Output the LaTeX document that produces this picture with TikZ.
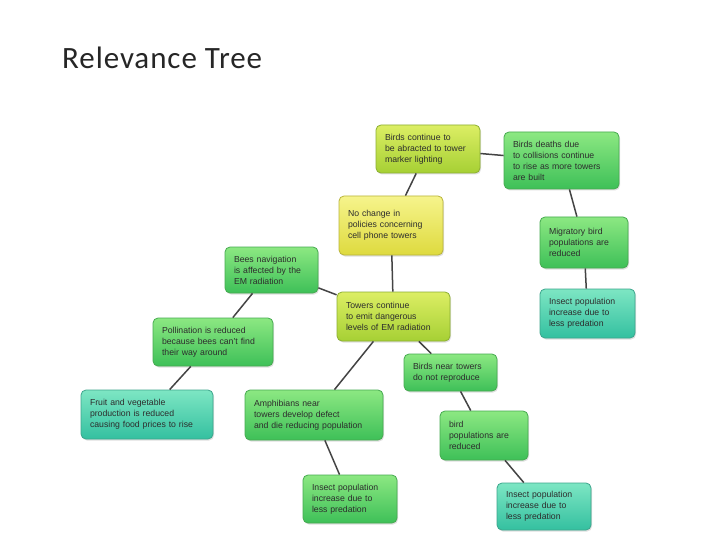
\documentclass[tikz,border=0pt]{standalone}
\usepackage{fontspec}
\setmainfont{Liberation Sans}
\newfontfamily\titlefont[LetterSpace=3]{Carlito}
\usetikzlibrary{shadows}
\definecolor{gtop}{RGB}{140,232,130}
\definecolor{gbot}{RGB}{62,192,88}
\definecolor{gedge}{RGB}{70,170,80}
\definecolor{ttop}{RGB}{125,230,195}
\definecolor{tbot}{RGB}{52,192,160}
\definecolor{tedge}{RGB}{60,165,140}
\definecolor{ytop}{RGB}{220,238,100}
\definecolor{ybot}{RGB}{166,208,52}
\definecolor{yedge}{RGB}{140,175,50}
\definecolor{ctop}{RGB}{246,244,140}
\definecolor{cbot}{RGB}{222,218,62}
\definecolor{cedge}{RGB}{185,180,60}
\definecolor{lnk}{RGB}{68,68,68}
\definecolor{txt}{RGB}{45,45,45}
\tikzset{
  box/.style={rounded corners=5pt, line width=0.8pt, align=left,
    inner xsep=9pt, inner ysep=4pt, text=txt,
    font=\fontsize{8.7}{11}\selectfont,
    drop shadow={opacity=0.25, shadow xshift=1pt, shadow yshift=-1.5pt}},
  gbox/.style={box, draw=gedge, top color=gtop, bottom color=gbot},
  tbox/.style={box, draw=tedge, top color=ttop, bottom color=tbot},
  ybox/.style={box, draw=yedge, top color=ytop, bottom color=ybot},
  cbox/.style={box, draw=cedge, top color=ctop, bottom color=cbot},
  sz/.style n args={3}{minimum width=#1pt, minimum height=#2pt, text width=#3pt},
  link/.style={draw=lnk, line width=1.5pt}
}
\begin{document}
\begin{tikzpicture}[x=1pt,y=-1pt]
\useasboundingbox[fill=white] (0,0) rectangle (720,540);
\node[anchor=base west, font=\titlefont\fontsize{31}{36}\selectfont, text=black!85, inner sep=0pt] (title) at (62,69) {Relevance Tree};

\node[ybox, sz={104}{48}{86}] (bc) at (428,149) {Birds continue to\\be abracted to tower\\marker lighting};
\node[gbox, sz={115}{57}{97}] (bd) at (561.5,160.5) {Birds deaths due\\to collisions continue\\to rise as more towers\\are built};
\node[cbox, sz={104}{59}{86}] (nc) at (391,225.5) {No change in\\policies concerning\\cell phone towers};
\node[gbox, sz={93}{46}{75}] (bees) at (271.5,270) {Bees navigation\\is affected by the\\EM radiation};
\node[gbox, sz={88}{51}{70}] (mig) at (584,242.5) {Migratory bird\\populations are\\reduced};
\node[ybox, sz={113}{49}{95}] (tow) at (393.5,316.5) {Towers continue\\to emit dangerous\\levels of EM radiation};
\node[tbox, sz={95}{49}{77}] (ins1) at (587.5,313.5) {Insect population\\increase due to\\less predation};
\node[gbox, sz={120}{48}{102}] (pol) at (213,342) {Pollination is reduced\\because bees can't find\\their way around};
\node[gbox, sz={93}{37}{75}] (bn) at (450.5,372.5) {Birds near towers\\do not reproduce};
\node[tbox, sz={132}{49}{114}] (fruit) at (147,414.5) {Fruit and vegetable\\production is reduced\\causing food prices to rise};
\node[gbox, sz={138}{50}{120}] (amph) at (314,415) {Amphibians near\\towers develop defect\\and die reducing population};
\node[gbox, sz={88}{49}{70}] (bp) at (484,435.5) {bird\\populations are\\reduced};
\node[gbox, sz={94}{48}{76}] (ins2) at (350,499) {Insect population\\increase due to\\less predation};
\node[tbox, sz={94}{47}{76}] (ins3) at (544,506.5) {Insect population\\increase due to\\less predation};

\draw[link] (bc) -- (nc);
\draw[link] (bc) -- (bd);
\draw[link] (bd) -- (mig);
\draw[link] (mig) -- (ins1);
\draw[link] (nc) -- (tow);
\draw[link] (tow) -- (bees);
\draw[link] (bees) -- (pol);
\draw[link] (pol) -- (fruit);
\draw[link] (tow) -- (amph);
\draw[link] (tow) -- (bn);
\draw[link] (bn) -- (bp);
\draw[link] (bp) -- (ins3);
\draw[link] (amph) -- (ins2);
\end{tikzpicture}
\end{document}
